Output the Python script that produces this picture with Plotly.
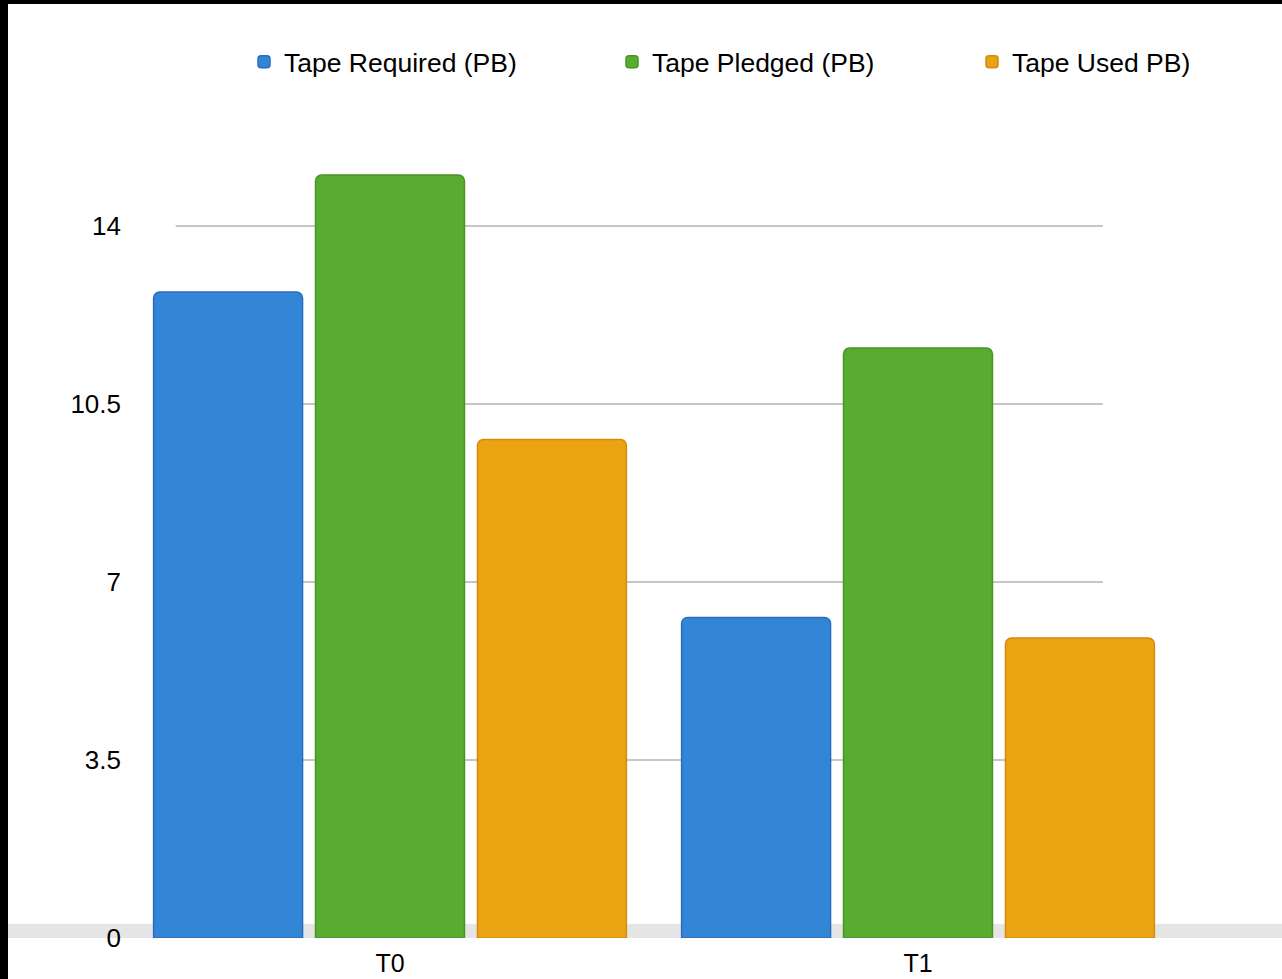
import plotly.graph_objects as go

# Tape storage by tier (petabytes)
tiers = ["T0", "T1"]
tape_required = [12.7, 6.3]
tape_pledged = [15.0, 11.6]
tape_used = [9.8, 5.9]
y_ticks = [0, 3.5, 7, 10.5, 14]
y_tick_labels = ["0", "3.5", "7", "10.5", "14"]

W, H = 1282, 979
M_L, M_R, M_T, M_B = 126, 100, 150, 41
PW = W - M_L - M_R
PH = H - M_T - M_B
FONT = "Liberation Sans, Arial, Helvetica, sans-serif"

series = [
    ("Tape Required (PB)", tape_required, "#3385d6", "#2a6cc0", "legend", 244),
    ("Tape Pledged (PB)", tape_pledged, "#58ad30", "#4a9426", "legend2", 612),
    ("Tape Used PB)", tape_used, "#eaa412", "#d68a0f", "legend3", 972),
]

fig = go.Figure()
legends = {}
for name, vals, fill, edge, leg, lx in series:
    fig.add_trace(go.Bar(
        x=tiers, y=vals, name=name, legend=leg,
        marker=dict(color=fill, line=dict(color=edge, width=1.5), cornerradius=6),
        hoverinfo="x+y+name",
    ))
    legends[leg] = dict(orientation="h", xref="container", yref="container",
                        x=lx / W, y=1 - 38 / H, xanchor="left", yanchor="top",
                        font=dict(family=FONT, size=26.5), bgcolor="rgba(0,0,0,0)")

# light gridlines that stop short of the plot edges
shapes = []
for v in y_ticks[1:]:
    shapes.append(dict(type="line", xref="paper", yref="y", x0=0.047, x1=0.925,
                       y0=v, y1=v, line=dict(color="#c6c6c6", width=2), layer="below"))

# soft floor shadow along the baseline
shapes.append(dict(type="rect", xref="paper", yref="y", x0=-M_L / PW, x1=(W - M_L) / PW,
                   y0=0, y1=0.28, fillcolor="rgba(0,0,0,0.10)", line=dict(width=0),
                   layer="below"))

# dark frame strips on the top and left edges
shapes.append(dict(type="rect", xref="paper", yref="paper",
                   x0=-M_L / PW, x1=(W - M_L) / PW,
                   y0=(H - M_B - 4) / PH, y1=(H - M_B + 2) / PH,
                   fillcolor="black", line=dict(width=0), layer="above"))
shapes.append(dict(type="rect", xref="paper", yref="paper",
                   x0=-M_L / PW - 0.01, x1=(8 - M_L) / PW,
                   y0=-M_B / PH, y1=(H - M_B + 2) / PH,
                   fillcolor="black", line=dict(width=0), layer="above"))

fig.update_layout(
    width=W, height=H,
    margin=dict(l=M_L, r=M_R, t=M_T, b=M_B, autoexpand=False),
    paper_bgcolor="white", plot_bgcolor="white",
    font=dict(family=FONT, size=26, color="black"),
    barmode="group", bargap=0.08, bargroupgap=0.08,
    showlegend=True,
    xaxis=dict(showgrid=False, showline=False, zeroline=False, ticks="",
               tickfont=dict(size=25), ticklabelstandoff=8, automargin=False),
    yaxis=dict(range=[0, PH / 50.86], tickmode="array", tickvals=y_ticks,
               ticktext=y_tick_labels, showgrid=False, zeroline=False, showline=False,
               ticks="", tickfont=dict(size=26), ticklabelstandoff=4, automargin=False),
    shapes=shapes,
    **legends,
)

fig.write_html("out.html")
